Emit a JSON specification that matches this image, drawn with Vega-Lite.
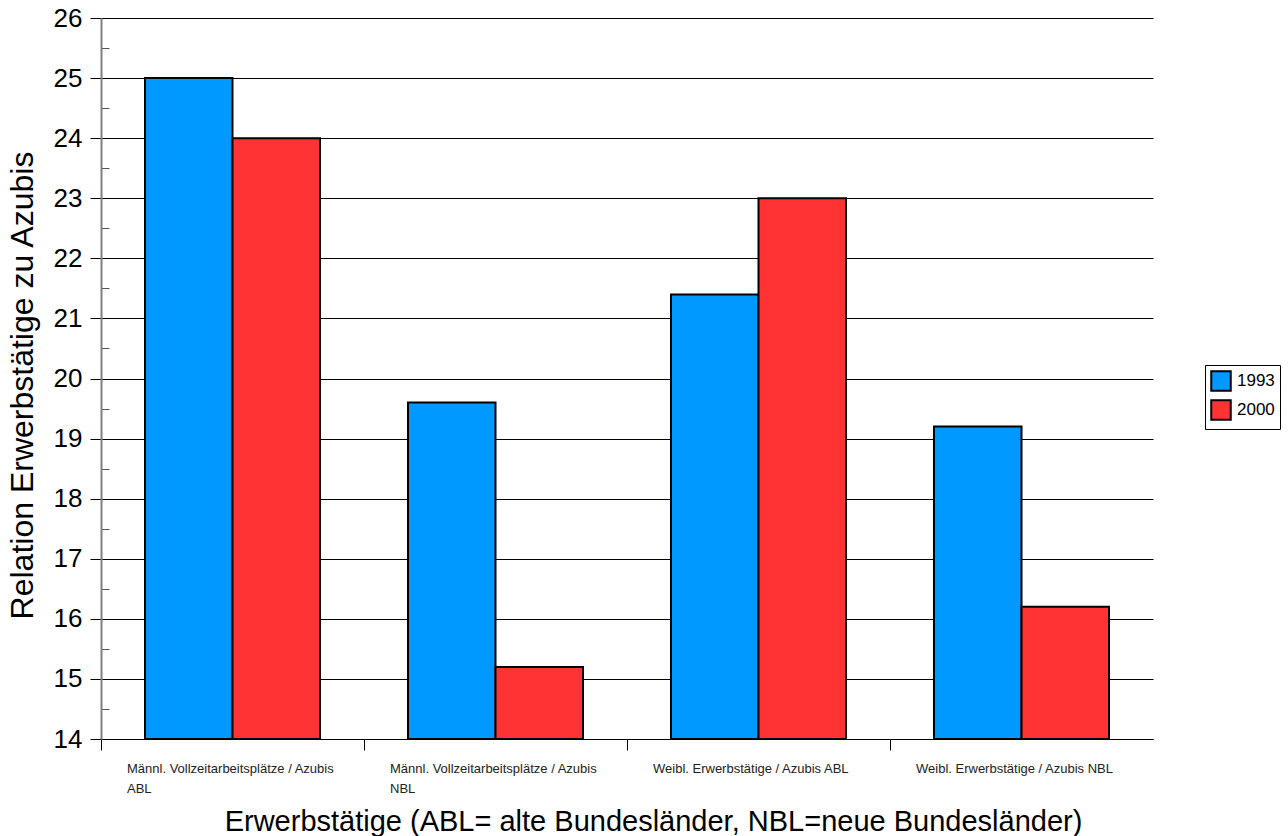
{
  "$schema": "https://vega.github.io/schema/vega-lite/v6.json",
  "width": 1052,
  "height": 721,
  "autosize": {"type": "none"},
  "padding": {"left": 101, "top": 18, "right": 135, "bottom": 97},
  "background": "white",
  "config": {"font": "Liberation Sans", "view": {"stroke": null}},
  "data": {
    "values": [
      {"category": "Männl. Vollzeitarbeitsplätze / Azubis ABL", "year": "1993", "value": 25},
      {"category": "Männl. Vollzeitarbeitsplätze / Azubis ABL", "year": "2000", "value": 24},
      {"category": "Männl. Vollzeitarbeitsplätze / Azubis NBL", "year": "1993", "value": 19.6},
      {"category": "Männl. Vollzeitarbeitsplätze / Azubis NBL", "year": "2000", "value": 15.2},
      {"category": "Weibl. Erwerbstätige / Azubis ABL", "year": "1993", "value": 21.4},
      {"category": "Weibl. Erwerbstätige / Azubis ABL", "year": "2000", "value": 23},
      {"category": "Weibl. Erwerbstätige / Azubis NBL", "year": "1993", "value": 19.2},
      {"category": "Weibl. Erwerbstätige / Azubis NBL", "year": "2000", "value": 16.2}
    ]
  },
  "mark": {"type": "bar", "stroke": "black", "strokeWidth": 2},
  "encoding": {
    "x": {
      "field": "category",
      "type": "nominal",
      "sort": [
        "Männl. Vollzeitarbeitsplätze / Azubis ABL",
        "Männl. Vollzeitarbeitsplätze / Azubis NBL",
        "Weibl. Erwerbstätige / Azubis ABL",
        "Weibl. Erwerbstätige / Azubis NBL"
      ],
      "scale": {"paddingInner": 0.3346, "paddingOuter": 0.1673},
      "title": "Erwerbstätige (ABL= alte Bundesländer, NBL=neue Bundesländer)",
      "axis": {
        "bandPosition": 0,
        "tickOffset": -44,
        "tickSize": 11,
        "tickColor": "black",
        "domainColor": "black",
        "domainWidth": 1,
        "labelAngle": 0,
        "labelFontSize": 13,
        "labelColor": "#222222",
        "labelAlign": "left",
        "labelOffset": -62,
        "labelLineHeight": 20,
        "labelPadding": 12,
        "labelLimit": 0,
        "labelExpr": "datum.value == 'Männl. Vollzeitarbeitsplätze / Azubis ABL' ? ['Männl. Vollzeitarbeitsplätze / Azubis', ' ABL'] : datum.value == 'Männl. Vollzeitarbeitsplätze / Azubis NBL' ? ['Männl. Vollzeitarbeitsplätze / Azubis', 'NBL'] : datum.label",
        "titleFontSize": 29,
        "titleFontWeight": "normal",
        "titleColor": "black",
        "titlePadding": 12,
        "titleX": 552
      }
    },
    "xOffset": {
      "field": "year",
      "type": "nominal",
      "scale": {"paddingInner": 0, "paddingOuter": 0}
    },
    "y": {
      "field": "value",
      "type": "quantitative",
      "scale": {"domain": [14, 26], "nice": false, "zero": false},
      "title": "Relation Erwerbstätige zu Azubis",
      "axis": {
        "values": [14, 14.5, 15, 15.5, 16, 16.5, 17, 17.5, 18, 18.5, 19, 19.5, 20, 20.5, 21, 21.5, 22, 22.5, 23, 23.5, 24, 24.5, 25, 25.5, 26],
        "labelExpr": "datum.value % 1 == 0 ? format(datum.value, 'd') : ''",
        "tickSize": {"condition": {"test": "datum.value % 1 != 0", "value": -8}, "value": 11},
        "tickColor": {"condition": {"test": "datum.value % 1 != 0", "value": "#555555"}, "value": "black"},
        "grid": true,
        "gridColor": "black",
        "gridWidth": 1,
        "gridOpacity": {"condition": {"test": "datum.value % 1 != 0", "value": 0}, "value": 1},
        "domainColor": "#808080",
        "domainWidth": 2,
        "labelFontSize": 26,
        "labelColor": "black",
        "labelPadding": 8,
        "titleFontSize": 32,
        "titleFontWeight": "normal",
        "titleColor": "black",
        "titlePadding": 14,
        "titleY": 367
      }
    },
    "y2": {"datum": 14},
    "color": {
      "field": "year",
      "type": "nominal",
      "scale": {"domain": ["1993", "2000"], "range": ["#0099ff", "#ff3333"]},
      "legend": {
        "title": null,
        "orient": "none",
        "legendX": 1104,
        "legendY": 347,
        "strokeColor": "black",
        "fillColor": "white",
        "padding": 5,
        "symbolType": "square",
        "symbolSize": 380,
        "symbolStrokeColor": "black",
        "symbolStrokeWidth": 2,
        "symbolOpacity": 1,
        "labelFontSize": 17,
        "labelColor": "black",
        "labelOffset": 5,
        "rowPadding": 1
      }
    }
  }
}
